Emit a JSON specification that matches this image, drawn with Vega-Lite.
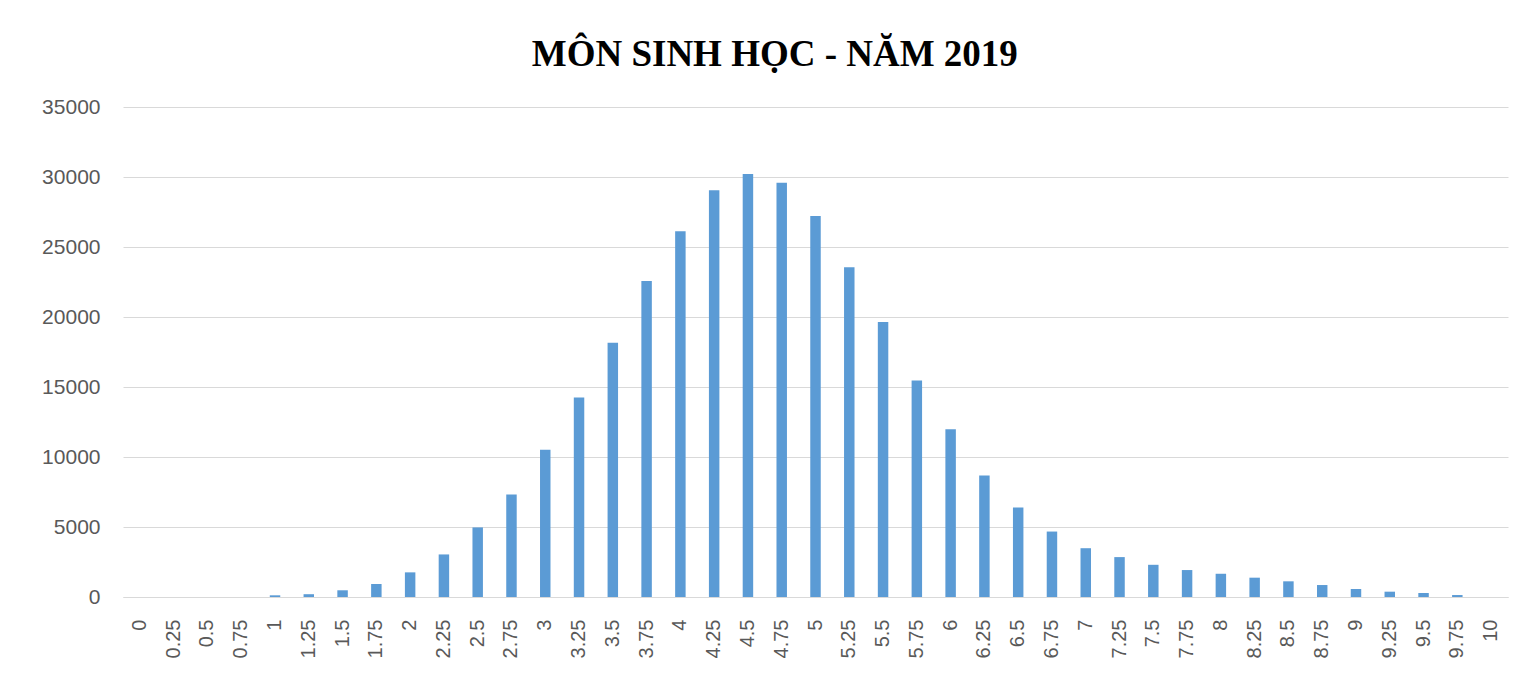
{
  "$schema": "https://vega.github.io/schema/vega-lite/v6.json",
  "width": 1385,
  "height": 490,
  "padding": {"left": 41, "top": 36, "right": 6, "bottom": 10},
  "background": "white",
  "title": {
    "text": "MÔN SINH HỌC - NĂM 2019",
    "font": "Liberation Serif",
    "fontSize": 37,
    "fontWeight": "bold",
    "color": "#000000",
    "anchor": "middle",
    "frame": "bounds",
    "offset": 22
  },
  "data": {
    "values": [
      {"diem": "0", "so_luong": 0},
      {"diem": "0.25", "so_luong": 0},
      {"diem": "0.5", "so_luong": 0},
      {"diem": "0.75", "so_luong": 0},
      {"diem": "1", "so_luong": 120},
      {"diem": "1.25", "so_luong": 200},
      {"diem": "1.5", "so_luong": 480},
      {"diem": "1.75", "so_luong": 930},
      {"diem": "2", "so_luong": 1760},
      {"diem": "2.25", "so_luong": 3040},
      {"diem": "2.5", "so_luong": 4970},
      {"diem": "2.75", "so_luong": 7320},
      {"diem": "3", "so_luong": 10520},
      {"diem": "3.25", "so_luong": 14250},
      {"diem": "3.5", "so_luong": 18160},
      {"diem": "3.75", "so_luong": 22580},
      {"diem": "4", "so_luong": 26130},
      {"diem": "4.25", "so_luong": 29050},
      {"diem": "4.5", "so_luong": 30220},
      {"diem": "4.75", "so_luong": 29590},
      {"diem": "5", "so_luong": 27220},
      {"diem": "5.25", "so_luong": 23560},
      {"diem": "5.5", "so_luong": 19640},
      {"diem": "5.75", "so_luong": 15460},
      {"diem": "6", "so_luong": 11980},
      {"diem": "6.25", "so_luong": 8680},
      {"diem": "6.5", "so_luong": 6395},
      {"diem": "6.75", "so_luong": 4675},
      {"diem": "7", "so_luong": 3485},
      {"diem": "7.25", "so_luong": 2850},
      {"diem": "7.5", "so_luong": 2300},
      {"diem": "7.75", "so_luong": 1925},
      {"diem": "8", "so_luong": 1660},
      {"diem": "8.25", "so_luong": 1380},
      {"diem": "8.5", "so_luong": 1120},
      {"diem": "8.75", "so_luong": 855},
      {"diem": "9", "so_luong": 570},
      {"diem": "9.25", "so_luong": 380},
      {"diem": "9.5", "so_luong": 285},
      {"diem": "9.75", "so_luong": 140},
      {"diem": "10", "so_luong": 0}
    ]
  },
  "mark": {"type": "bar", "color": "#5B9BD5"},
  "encoding": {
    "x": {
      "field": "diem",
      "type": "nominal",
      "sort": null,
      "scale": {"paddingInner": 0.69, "paddingOuter": 0.345},
      "axis": {
        "title": null,
        "labelAngle": -90,
        "labelFont": "Liberation Sans",
        "labelFontSize": 20,
        "labelColor": "#595959",
        "labelPadding": 22,
        "ticks": false,
        "domain": true,
        "domainColor": "#D9D9D9",
        "domainWidth": 1
      }
    },
    "y": {
      "field": "so_luong",
      "type": "quantitative",
      "scale": {"domain": [0, 35000], "nice": false},
      "axis": {
        "title": null,
        "values": [0, 5000, 10000, 15000, 20000, 25000, 30000, 35000],
        "format": "d",
        "labelFont": "Liberation Sans",
        "labelFontSize": 21,
        "labelColor": "#595959",
        "labelPadding": 23,
        "ticks": false,
        "domain": false,
        "grid": true,
        "gridColor": "#D9D9D9",
        "gridWidth": 1
      }
    }
  },
  "config": {
    "view": {"stroke": null}
  }
}
